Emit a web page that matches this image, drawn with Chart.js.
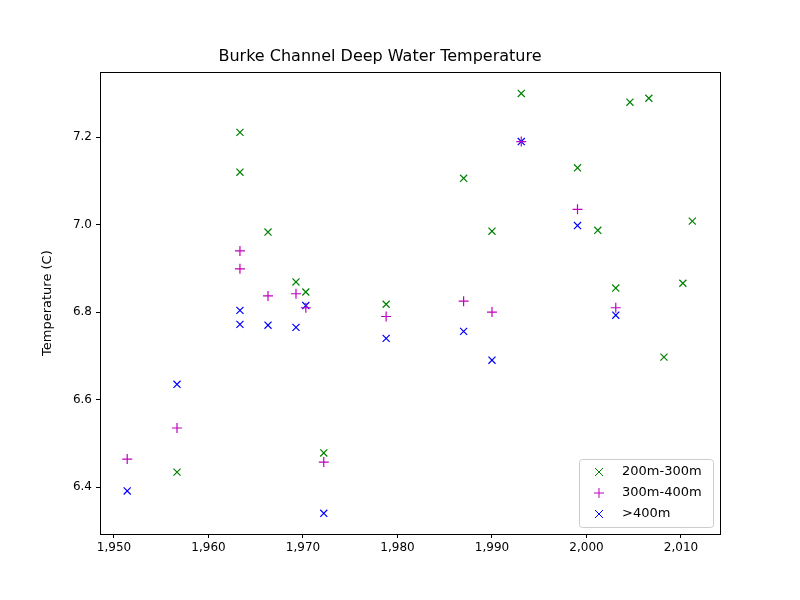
<!DOCTYPE html>
<html><head><meta charset="utf-8">
<script src="https://cdn.jsdelivr.net/npm/chart.js@4"></script>
<style>body{margin:0;background:#fff}#c{display:block}</style>
</head><body>
<div style="width:800px;height:600px"><canvas id="c"></canvas></div>
<script>
const seriesNames = ['200m-300m', '300m-400m', '>400m'];
const yearsG = [1963.33,1963.33,1956.67,1966.3,1969.26,1970.3,1972.2,1978.8,1987.0,1990.0,1993.1,1999.05,2001.2,2003.1,2004.6,2006.6,2008.2,2010.2,2011.2];
const tempG = [7.211,7.12,6.434,6.983,6.869,6.846,6.478,6.818,7.106,6.985,7.30,7.13,6.987,6.855,7.28,7.289,6.697,6.866,7.008];
const yearsP = [1951.4,1956.67,1963.33,1963.33,1966.3,1969.26,1970.3,1972.2,1978.8,1987.0,1990.0,1993.1,1999.05,2003.1];
const tempP = [6.464,6.535,6.94,6.899,6.837,6.842,6.81,6.457,6.79,6.825,6.80,7.19,7.035,6.81];
const yearsB = [1951.4,1956.67,1963.33,1963.33,1966.3,1969.26,1970.3,1972.2,1978.8,1987.0,1990.0,1993.1,1999.05,2003.1];
const tempB = [6.391,6.635,6.804,6.772,6.77,6.765,6.815,6.34,6.74,6.756,6.69,7.19,6.998,6.793];

const pts = (xs, ys) => xs.map((x, i) => ({x: x, y: ys[i]}));
const css = ['#008000', '#bf00bf', '#0000ff'];
const styles = ['crossRot', 'cross', 'crossRot'];

const frame = {
  id: 'frame',
  afterDraw(chart) {
    const c = chart.ctx, a = chart.chartArea;
    c.save();
    c.strokeStyle = '#000'; c.lineWidth = 1;
    c.strokeRect(Math.round(a.left) + 0.5, Math.round(a.top) + 0.5, Math.round(a.right - a.left), Math.round(a.bottom - a.top));
    const w = 134, h = 68, x = a.right - w - 7, y = a.bottom - h - 7;
    c.fillStyle = 'rgba(255,255,255,0.8)';
    c.strokeStyle = '#cccccc';
    c.beginPath(); c.roundRect(x + 0.5, y + 0.5, w, h, 3); c.fill(); c.stroke();
    c.font = '13px "DejaVu Sans"';
    c.textBaseline = 'middle';
    seriesNames.forEach((n, i) => {
      const cy = y + 13 + i * 21, cx = x + 20;
      c.strokeStyle = css[i]; c.lineWidth = 1;
      c.beginPath();
      if (styles[i] === 'cross') { c.moveTo(cx - 5, cy); c.lineTo(cx + 5, cy); c.moveTo(cx, cy - 5); c.lineTo(cx, cy + 5); }
      else { c.moveTo(cx - 4, cy - 4); c.lineTo(cx + 4, cy + 4); c.moveTo(cx - 4, cy + 4); c.lineTo(cx + 4, cy - 4); }
      c.stroke();
      c.fillStyle = '#000';
      c.fillText(n, x + 43, cy);
    });
    c.restore();
  }
};

const gridOpts = {display: true, drawOnChartArea: false, drawTicks: true, tickLength: 4, color: '#000'};

new Chart(document.getElementById('c'), {
  type: 'scatter',
  data: {
    datasets: [
      {label: seriesNames[0], data: pts(yearsG, tempG)},
      {label: seriesNames[1], data: pts(yearsP, tempP)},
      {label: seriesNames[2], data: pts(yearsB, tempB)}
    ].map((d, i) => Object.assign(d, {pointStyle: styles[i], borderColor: css[i], backgroundColor: css[i], pointRadius: 5, pointBorderWidth: 1.2}))
  },
  options: {
    responsive: true, maintainAspectRatio: false, animation: false,
    layout: {padding: {top: 47, right: 80, bottom: 44, left: 40}},
    plugins: {
      legend: {display: false},
      tooltip: {enabled: false},
      title: {display: true, text: 'Burke Channel Deep Water Temperature', color: '#000',
        font: {family: 'DejaVu Sans', size: 16, weight: 'normal'}, padding: {top: 0, bottom: 6}}
    },
    scales: {
      x: {min: 1948.52, max: 2014.13, grid: gridOpts,
        border: {color: '#000'},
        ticks: {color: '#000', padding: 3, font: {family: 'DejaVu Sans', size: 12}},
        afterBuildTicks: s => { s.ticks = [1950,1960,1970,1980,1990,2000,2010].map(v => ({value: v})); },
        afterFit: s => { s.height = 22; }
      },
      y: {min: 6.2926, max: 7.3486, grid: gridOpts,
        border: {color: '#000'},
        title: {display: true, text: 'Temperature (C)', color: '#000', font: {family: 'DejaVu Sans', size: 13}, padding: 0},
        ticks: {color: '#000', padding: 4, font: {family: 'DejaVu Sans', size: 12}, callback: v => v.toFixed(1)},
        afterBuildTicks: s => { s.ticks = [6.4,6.6,6.8,7.0,7.2].map(v => ({value: v})); },
        afterFit: s => { s.width = 60; }
      }
    }
  },
  plugins: [frame]
});
</script>
</body></html>
